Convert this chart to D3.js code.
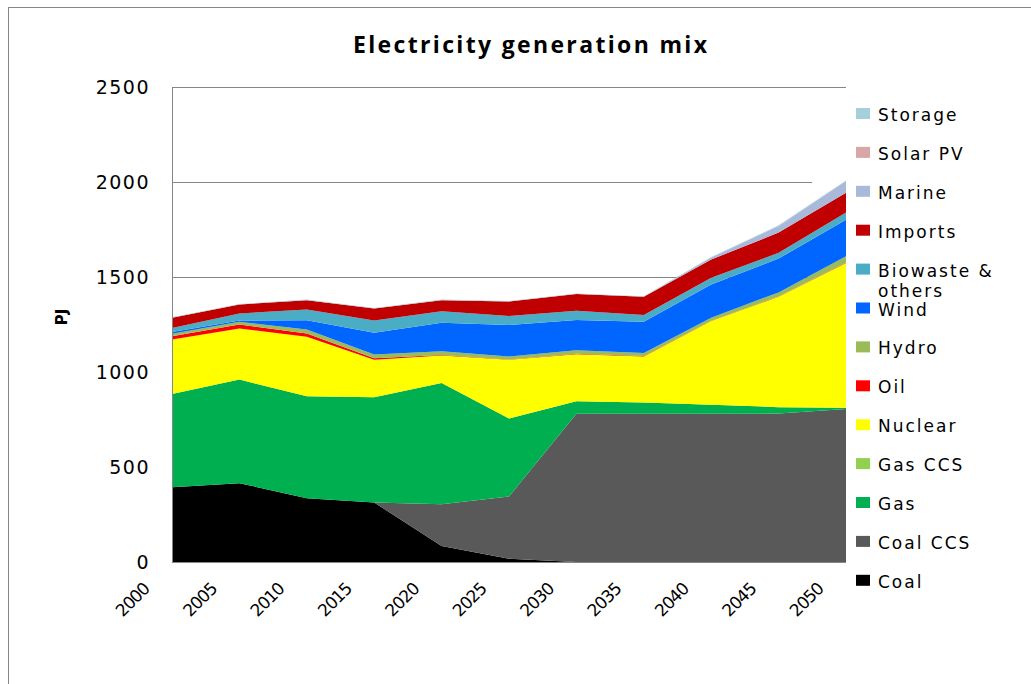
<!DOCTYPE html>
<html>
<head>
<meta charset="utf-8">
<title>Electricity generation mix</title>
<script src="https://cdn.jsdelivr.net/npm/d3@7"></script>
<style>
    body { margin: 0; background: #fff; }
    text { font-family: 'DejaVu Sans', sans-serif; fill: #000; }
    .title { font-family: 'Open Sans', sans-serif; font-size: 23px; font-weight: bold; }
    .y-title { font-size: 15px; font-weight: bold; }
    .y-axis text { font-size: 19px; letter-spacing: 1.5px; }
    .x-axis text { font-size: 17px; letter-spacing: -1px; }
    .legend text { font-size: 17px; letter-spacing: 2px; }
    .grid line { stroke: #868686; stroke-width: 1px; shape-rendering: crispEdges; }
    .frame { fill: none; stroke: #868686; stroke-width: 1px; shape-rendering: crispEdges; }
</style>
</head>
<body>
<div id="chart"></div>
<script>
(function (d3) {
    'use strict';

    // Data (PJ), bottom series first.
    var years = ['2000', '2005', '2010', '2015', '2020', '2025', '2030', '2035', '2040', '2045', '2050'];
    var coal     = [394, 415, 336, 313,  84,  17,   0,   0,   0,   0,   0];
    var coalCcs  = [  0,   0,   0,   0, 220, 328, 780, 780, 780, 781, 805];
    var gas      = [490, 545, 536, 554, 638, 410,  66,  59,  48,  34,   7];
    var gasCcs   = [  0,   0,   0,   0,   0,   0,   0,   0,   0,   0,   0];
    var nuclear  = [287, 269, 313, 198, 145, 309, 248, 243, 440, 581, 762];
    var oil      = [ 17,  21,  18,   7,   2,   2,   2,   2,   2,   2,   2];
    var hydro    = [ 13,  14,  21,  20,  20,  16,  18,  16,  16,  21,  33];
    var wind     = [  9,   7,  49, 114, 150, 165, 160, 165, 174, 178, 192];
    var biowaste = [ 22,  37,  56,  65,  61,  48,  48,  35,  36,  30,  39];
    var imports  = [ 53,  47,  49,  63,  58,  76,  88,  96,  96, 107, 103];
    var marine   = [  0,   0,   0,   0,   0,   0,   0,   0,  10,  35,  62];
    var solarPv  = [  0,   0,   0,   0,   0,   0,   0,   0,   0,   0,   0];
    var storage  = [  3,   3,   3,   3,   3,   3,   3,   3,   3,   3,   3];

    var yTicks = [0, 500, 1000, 1500, 2000, 2500];

    var series = [
        {name: 'Coal', values: coal, color: '#000000'},
        {name: 'Coal CCS', values: coalCcs, color: '#595959'},
        {name: 'Gas', values: gas, color: '#00b050'},
        {name: 'Gas CCS', values: gasCcs, color: '#92d050'},
        {name: 'Nuclear', values: nuclear, color: '#ffff00'},
        {name: 'Oil', values: oil, color: '#ff0000'},
        {name: 'Hydro', values: hydro, color: '#9bbb59'},
        {name: 'Wind', values: wind, color: '#0066ff'},
        {name: 'Biowaste & others', values: biowaste, color: '#4bacc6'},
        {name: 'Imports', values: imports, color: '#c00000'},
        {name: 'Marine', values: marine, color: '#a9b9d9'},
        {name: 'Solar PV', values: solarPv, color: '#d9a6a6'},
        {name: 'Storage', values: storage, color: '#a6cfdc'}
    ];

    var width = 1031, height = 684;
    var plot = {left: 172, right: 846, top: 87, bottom: 562};

    var svg = d3.select('#chart').append('svg')
        .attr('width', width)
        .attr('height', height)
    ;

    // Chart border (runs off the right and bottom of the picture).
    svg.append('rect')
        .attr('class', 'frame')
        .attr('x', 8.5).attr('y', 7.5)
        .attr('width', 1100).attr('height', 720)
    ;

    svg.append('text')
        .attr('class', 'title')
        .attr('x', 353).attr('y', 53)
        .attr('textLength', 354)
        .attr('lengthAdjust', 'spacing')
        .text('Electricity generation mix')
    ;

    var x = d3.scalePoint().domain(years).range([plot.left, plot.right]);
    var y = d3.scaleLinear().domain([0, 2500]).range([plot.bottom, plot.top]);

    // Gridlines; the legend box hides their right ends, as in the original.
    svg.append('g').attr('class', 'grid')
        .selectAll('line')
        .data(yTicks)
        .enter().append('line')
        .attr('x1', plot.left).attr('x2', plot.right)
        .attr('y1', function (d) { return Math.round(y(d)) + 0.5; })
        .attr('y2', function (d) { return Math.round(y(d)) + 0.5; })
    ;

    svg.append('rect')
        .attr('x', 812).attr('y', 95)
        .attr('width', 210).attr('height', 505)
        .attr('fill', '#fff')
    ;

    var rows = years.map(function (yr, i) {
        var row = {year: yr};
        series.forEach(function (s) { row[s.name] = s.values[i]; });
        return row;
    });

    var stack = d3.stack().keys(series.map(function (s) { return s.name; }));
    var layers = stack(rows);

    var area = d3.area()
        .x(function (d) { return x(d.data.year); })
        .y0(function (d) { return y(d[0]); })
        .y1(function (d) { return y(d[1]); })
    ;

    svg.append('g').attr('class', 'areas')
        .selectAll('path')
        .data(layers)
        .enter().append('path')
        .attr('fill', function (d, i) { return series[i].color; })
        .attr('d', area)
    ;

    // Axis lines.
    svg.append('line').attr('class', 'frame')
        .attr('x1', plot.left + 0.5).attr('x2', plot.left + 0.5)
        .attr('y1', plot.top).attr('y2', plot.bottom + 1);
    svg.append('line').attr('class', 'frame')
        .attr('x1', plot.left).attr('x2', plot.right)
        .attr('y1', plot.bottom + 0.5).attr('y2', plot.bottom + 0.5);

    var yAxis = svg.append('g')
        .attr('class', 'y-axis')
        .attr('transform', translate(plot.left, 0))
        .call(d3.axisLeft(y)
            .tickValues(yTicks)
            .tickFormat(d3.format('d'))
            .tickSize(0)
            .tickPadding(22))
    ;
    yAxis.select('.domain').remove();
    yAxis.selectAll('text').attr('dy', '0.36em').attr('font-family', null).attr('font-size', null);

    var xAxis = svg.append('g')
        .attr('class', 'x-axis')
        .attr('transform', translate(0, plot.bottom))
        .call(d3.axisBottom(x).tickSize(0))
    ;
    xAxis.select('.domain').remove();
    xAxis.selectAll('text')
        .attr('font-family', null).attr('font-size', null)
        .attr('x', 0).attr('y', 0).attr('dy', 0)
        .attr('text-anchor', 'end')
        .attr('transform', 'translate(-22, 28) rotate(-45)')
    ;

    svg.append('text')
        .attr('class', 'y-title')
        .attr('transform', translate(67, 317) + ' rotate(-90)')
        .attr('text-anchor', 'middle')
        .text('PJ')
    ;

    // Legend, top entry is the top layer.
    var legend = svg.append('g').attr('class', 'legend');
    var items = legend.selectAll('g')
        .data(series.slice().reverse())
        .enter().append('g')
        .attr('transform', function (d, i) { return translate(0, 121 + i * 38.9); })
    ;

    items.append('rect')
        .attr('x', 856).attr('y', -13)
        .attr('width', 14).attr('height', 11)
        .attr('fill', function (d) { return d.color; })
    ;

    items.append('text')
        .attr('x', 878)
        .each(function (d) {
            var t = d3.select(this);
            if (d.name === 'Biowaste & others') {
                t.append('tspan').attr('x', 878).text('Biowaste &');
                t.append('tspan').attr('x', 878).attr('dy', 20).text('others');
            } else {
                t.text(d.name);
            }
        })
    ;

    function translate(a, b) {
        return 'translate(' + a + ', ' + b + ')';
    }

})(d3);
</script>
</body>
</html>
